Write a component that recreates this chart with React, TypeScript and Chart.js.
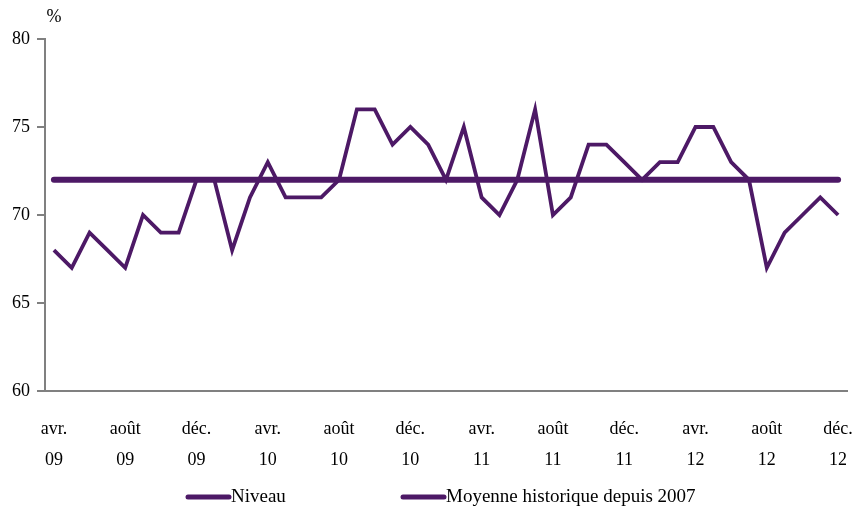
import React, { useEffect, useRef } from "react";
import { Chart, registerables } from "chart.js";

Chart.register(...registerables);

const months = [
  "avr. 09", "mai 09", "juin 09", "juil. 09", "août 09", "sept. 09", "oct. 09", "nov. 09",
  "déc. 09", "janv. 10", "févr. 10", "mars 10", "avr. 10", "mai 10", "juin 10", "juil. 10",
  "août 10", "sept. 10", "oct. 10", "nov. 10", "déc. 10", "janv. 11", "févr. 11", "mars 11",
  "avr. 11", "mai 11", "juin 11", "juil. 11", "août 11", "sept. 11", "oct. 11", "nov. 11",
  "déc. 11", "janv. 12", "févr. 12", "mars 12", "avr. 12", "mai 12", "juin 12", "juil. 12",
  "août 12", "sept. 12", "oct. 12", "nov. 12", "déc. 12",
];

const niveau = [
  68, 67, 69, 68, 67, 70, 69, 69,
  72, 72, 68, 71, 73, 71, 71, 71,
  72, 76, 76, 74, 75, 74, 72, 75,
  71, 70, 72, 76, 70, 71, 74, 74,
  73, 72, 73, 73, 75, 75, 73, 72,
  67, 69, 70, 71, 70,
];

const moyenne = [
  72, 72, 72, 72, 72, 72, 72, 72,
  72, 72, 72, 72, 72, 72, 72, 72,
  72, 72, 72, 72, 72, 72, 72, 72,
  72, 72, 72, 72, 72, 72, 72, 72,
  72, 72, 72, 72, 72, 72, 72, 72,
  72, 72, 72, 72, 72,
];

const seriesNames = ["Niveau", "Moyenne historique depuis 2007"];
const yMin = 60;
const yMax = 80;
const yStep = 5;
const yUnit = "%";

const PURPLE = "#4D1966";
const GREY = "#808080";
const FONT = "'Liberation Serif', 'DejaVu Serif', serif";

export default function App() {
  const ref = useRef<HTMLCanvasElement>(null);

  useEffect(() => {
    const overlay = {
      id: "overlay",
      afterDraw(chart: any) {
        const ctx = chart.ctx as CanvasRenderingContext2D;
        ctx.save();
        ctx.fillStyle = "#000";
        ctx.font = `18px ${FONT}`;
        ctx.textBaseline = "middle";
        ctx.textAlign = "center";
        ctx.fillText(yUnit, chart.chartArea.left + 9, 17);
        const items = [
          { x: 186, label: seriesNames[0] },
          { x: 401, label: seriesNames[1] },
        ];
        const ly = 497;
        ctx.textAlign = "left";
        ctx.font = `19px ${FONT}`;
        items.forEach((it) => {
          ctx.strokeStyle = PURPLE;
          ctx.lineWidth = 5;
          ctx.lineCap = "round";
          ctx.beginPath();
          ctx.moveTo(it.x + 2, ly);
          ctx.lineTo(it.x + 43, ly);
          ctx.stroke();
          ctx.fillText(it.label, it.x + 45, ly);
        });
        ctx.restore();
      },
    };

    const chart = new Chart(ref.current!, {
      type: "line",
      data: {
        labels: months,
        datasets: [
          {
            label: seriesNames[0],
            data: niveau,
            borderColor: PURPLE,
            backgroundColor: PURPLE,
            borderWidth: 3.8,
            pointRadius: 0,
            tension: 0,
            borderJoinStyle: "miter",
          },
          {
            label: seriesNames[1],
            data: moyenne,
            borderColor: PURPLE,
            backgroundColor: PURPLE,
            borderWidth: 6,
            pointRadius: 0,
            borderCapStyle: "round",
          },
        ],
      },
      options: {
        animation: false,
        responsive: false,
        maintainAspectRatio: false,
        layout: { padding: { top: 39, right: 11, left: 0, bottom: 0 } },
        plugins: { legend: { display: false }, tooltip: { enabled: false } },
        scales: {
          x: {
            offset: true,
            grid: { display: false, drawTicks: false },
            border: { color: GREY, width: 2 },
            ticks: {
              autoSkip: false,
              maxRotation: 0,
              minRotation: 0,
              padding: 23,
              color: "#000",
              font: { family: FONT, size: 18, lineHeight: 1.7 },
              callback: (_v: any, i: number) => (i % 4 === 0 ? months[i].split(" ") : ""),
            },
            afterFit: (s: any) => {
              s.height = 124;
              s.paddingLeft = 0;
              s.paddingRight = 0;
            },
          },
          y: {
            min: yMin,
            max: yMax,
            ticks: {
              stepSize: yStep,
              padding: 7,
              color: "#000",
              font: { family: FONT, size: 18 },
            },
            grid: { drawOnChartArea: false, tickLength: 8, color: GREY, lineWidth: 2 },
            border: { color: GREY, width: 2 },
            afterFit: (s: any) => {
              s.width = 45;
              s.paddingTop = 0;
              s.paddingBottom = 0;
            },
          },
        },
      },
      plugins: [overlay],
    });
    return () => chart.destroy();
  }, []);

  return (
    <canvas
      ref={ref}
      width={858}
      height={515}
      style={{ position: "fixed", left: 0, top: 0, width: 858, height: 515 }}
    />
  );
}
